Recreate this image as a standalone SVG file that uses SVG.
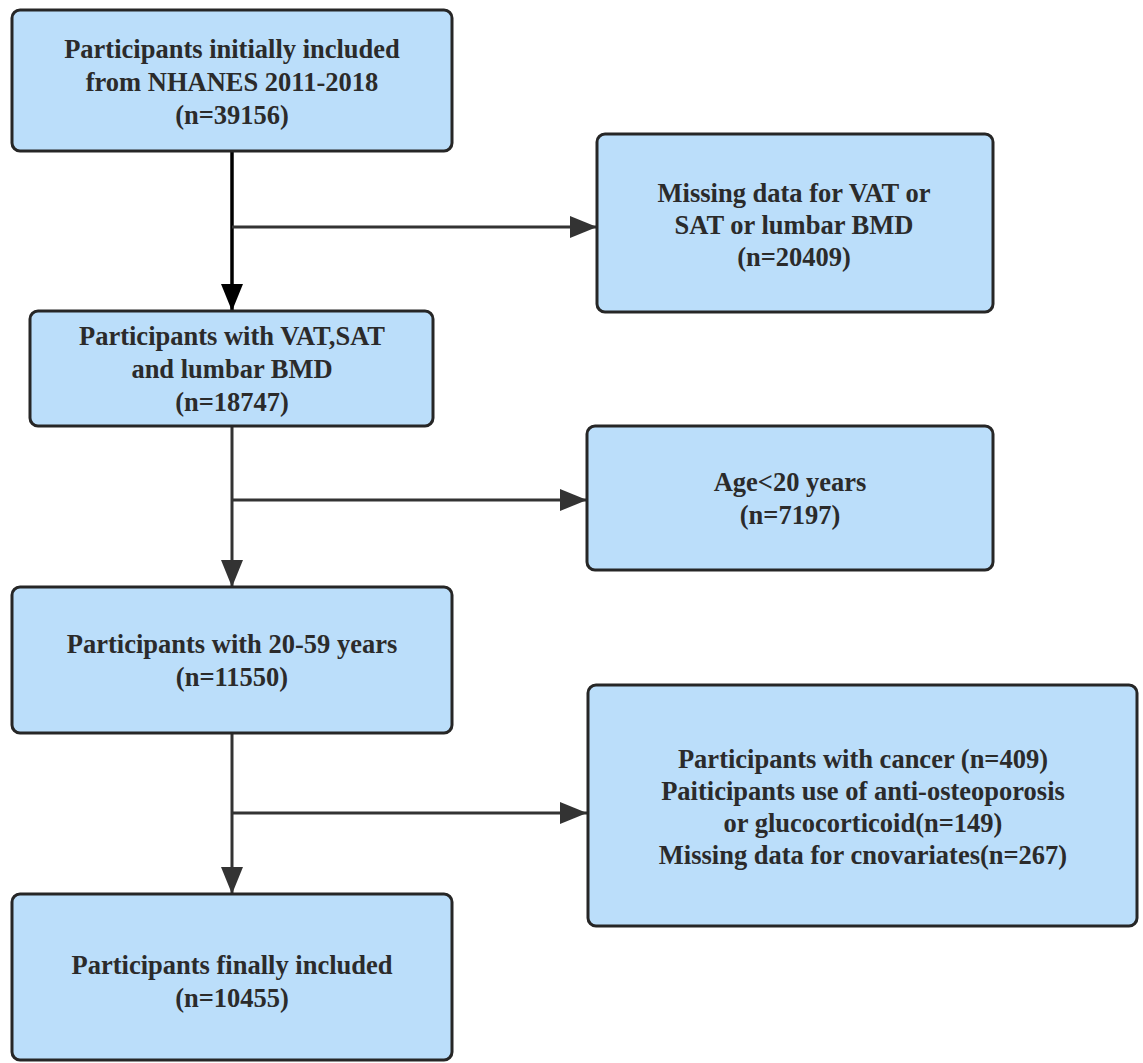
<svg xmlns="http://www.w3.org/2000/svg" width="1143" height="1063" viewBox="0 0 1143 1063">
<style>
.box{fill:#bbdefa;stroke:#262626;stroke-width:3}
.t{font-family:"Liberation Serif","Times New Roman",serif;font-weight:bold;font-size:26.5px;fill:#2b2b2b;text-anchor:middle}
.c{stroke:#333;stroke-width:3;fill:none}
.c1{stroke:#000;stroke-width:3.5;fill:none}
</style>
<defs>
<marker id="ah" markerWidth="27" markerHeight="22" refX="27" refY="11" orient="auto" markerUnits="userSpaceOnUse" viewBox="0 0 27 22"><path d="M0,0 L27,11 L0,22 z" fill="#333"/></marker>
<marker id="ah1" markerWidth="27" markerHeight="22" refX="27" refY="11" orient="auto" markerUnits="userSpaceOnUse" viewBox="0 0 27 22"><path d="M0,0 L27,11 L0,22 z" fill="#000"/></marker>
</defs>
<rect width="1143" height="1063" fill="#fff"/>
<g id="connectors">
<line class="c1" x1="232" y1="151" x2="232" y2="311" marker-end="url(#ah1)"/>
<line class="c" x1="232" y1="227" x2="597" y2="227" marker-end="url(#ah)"/>
<line class="c" x1="232" y1="426" x2="232" y2="587" marker-end="url(#ah)"/>
<line class="c" x1="232" y1="500" x2="587" y2="500" marker-end="url(#ah)"/>
<line class="c" x1="232" y1="733" x2="232" y2="894" marker-end="url(#ah)"/>
<line class="c" x1="232" y1="813" x2="587" y2="813" marker-end="url(#ah)"/>
</g>
<g id="n1"><rect class="box" x="12" y="10" width="440" height="141" rx="8"/>
<text class="t" x="232" y="58">Participants initially included</text>
<text class="t" x="232" y="91">from NHANES 2011-2018</text>
<text class="t" x="232" y="124">(n=39156)</text></g>
<g id="n2"><rect class="box" x="597" y="134" width="396" height="178" rx="8"/>
<text class="t" x="794" y="202">Missing data for VAT or</text>
<text class="t" x="794" y="234">SAT or lumbar BMD</text>
<text class="t" x="794" y="266">(n=20409)</text></g>
<g id="n3"><rect class="box" x="30" y="311" width="403" height="115" rx="8"/>
<text class="t" x="232" y="345">Participants with VAT,SAT</text>
<text class="t" x="232" y="378">and lumbar BMD</text>
<text class="t" x="232" y="411">(n=18747)</text></g>
<g id="n4"><rect class="box" x="587" y="426" width="406" height="144" rx="8"/>
<text class="t" x="790" y="491">Age&lt;20 years</text>
<text class="t" x="790" y="524">(n=7197)</text></g>
<g id="n5"><rect class="box" x="12" y="587" width="440" height="146" rx="8"/>
<text class="t" x="232" y="653">Participants with 20-59 years</text>
<text class="t" x="232" y="686">(n=11550)</text></g>
<g id="n6"><rect class="box" x="12" y="894" width="440" height="166" rx="8"/>
<text class="t" x="232" y="974">Participants finally included</text>
<text class="t" x="232" y="1007">(n=10455)</text></g>
<g id="n7"><rect class="box" x="588" y="685" width="549" height="241" rx="8"/>
<text class="t" x="863" y="768">Participants with cancer (n=409)</text>
<text class="t" x="863" y="800">Paiticipants use of anti-osteoporosis</text>
<text class="t" x="863" y="832">or glucocorticoid(n=149)</text>
<text class="t" x="863" y="864">Missing data for cnovariates(n=267)</text></g>
</svg>
